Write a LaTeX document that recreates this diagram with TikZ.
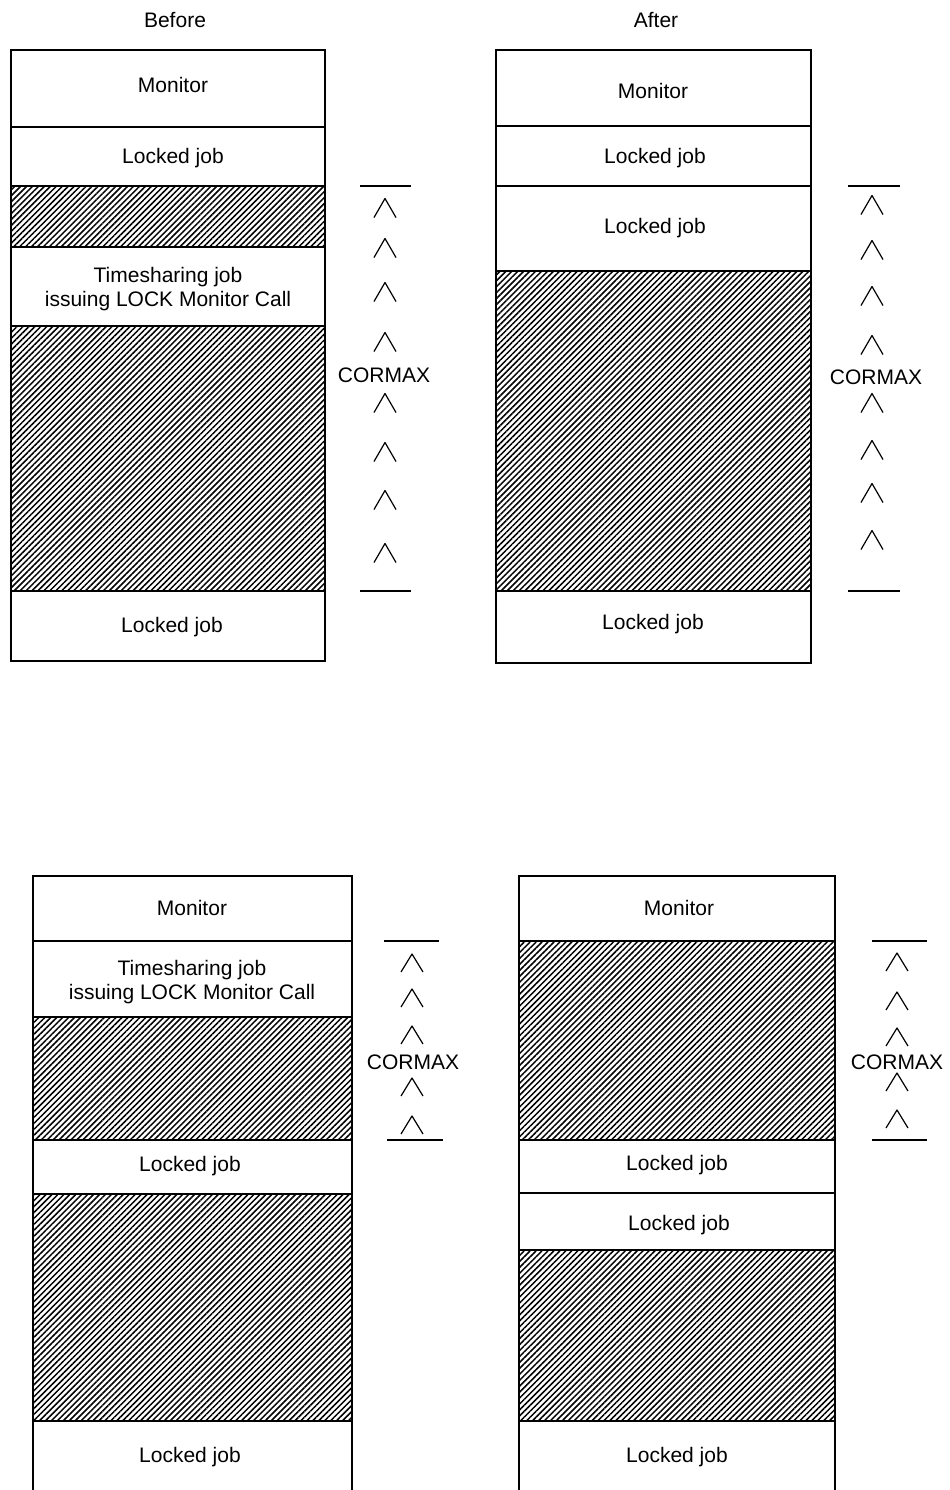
\documentclass[tikz,border=0pt]{standalone}
\usepackage{fontspec}
\setmainfont{Liberation Sans}
\usetikzlibrary{patterns.meta}

\begin{document}
\begin{tikzpicture}[x=0.5pt,y=-0.5pt,
  box/.style={line width=0.9pt},
  hatch/.style={draw,line width=0.9pt,
    pattern={Lines[angle=45,distance=2.1pt,line width=0.75pt]}},
  lbl/.style={font=\fontsize{10.5}{12}\selectfont,align=center,inner sep=0pt,yshift=-1pt},
  bar/.style={line width=0.8pt},
  caret/.style={line width=0.6pt,line join=round}]
  \useasboundingbox (0,0) rectangle (949,1490);
  % titles
  \node[lbl] (before) at (175,18) {Before};
  \node[lbl] (after) at (656,18) {After};
  % (a) before, upper map
  \draw[hatch] (11,186) rectangle (325,247);
  \draw[hatch] (11,326) rectangle (325,591);
  \draw[box] (11,50) rectangle (325,661);
  \draw[box] (11,127) -- (325,127);
  \node[lbl] (amon) at (173,83) {Monitor};
  \node[lbl] (alock) at (173,156) {Locked job};
  \node[lbl] (ats) at (168,287) {Timesharing job\\issuing LOCK Monitor Call};
  \node[lbl] (alock2) at (172,625) {Locked job};
  % cormax scale
  \draw[bar] (360,186) -- (411,186);
  \draw[bar] (360,591) -- (411,591);
  \foreach \y in {208,248,292,342,403,452,500,553}
    \draw[caret] (374,\y+9.5) -- (385,\y-9.5) -- (396,\y+9.5);
  \node[lbl] (acmx) at (384,373) {CORMAX};
  % (b) after, upper map
  \draw[hatch] (496,271) rectangle (811,591);
  \draw[box] (496,50) rectangle (811,663);
  \draw[box] (496,126) -- (811,126);
  \draw[box] (496,186) -- (811,186);
  \node[lbl] (bmon) at (653,89) {Monitor};
  \node[lbl] (block) at (655,156) {Locked job};
  \node[lbl] (block2) at (655,226) {Locked job};
  \node[lbl] (block3) at (653,622) {Locked job};
  % cormax scale
  \draw[bar] (848,186) -- (900,186);
  \draw[bar] (848,591) -- (900,591);
  \foreach \y in {205,250,296,345,403,450,493,540}
    \draw[caret] (861,\y+9.5) -- (872,\y-9.5) -- (883,\y+9.5);
  \node[lbl] (bcmx) at (876,375) {CORMAX};
  % (c) before, lower map
  \draw[hatch] (33,1017) rectangle (352,1140);
  \draw[hatch] (33,1194) rectangle (352,1421);
  \draw[box] (33,1490) -- (33,876) -- (352,876) -- (352,1490);
  \draw[box] (33,941) -- (352,941);
  \node[lbl] (cmon) at (192,906) {Monitor};
  \node[lbl] (cts) at (192,980) {Timesharing job\\issuing LOCK Monitor Call};
  \node[lbl] (clock) at (190,1164) {Locked job};
  \node[lbl] (clock2) at (190,1455) {Locked job};
  % cormax scale
  \draw[bar] (384,941) -- (439,941);
  \draw[bar] (387,1140) -- (443,1140);
  \foreach \y in {963,998,1035,1087,1125}
    \draw[caret] (401,\y+9) -- (412,\y-9) -- (423,\y+9);
  \node[lbl] (ccmx) at (413,1060) {CORMAX};
  % (d) after, lower map
  \draw[hatch] (519,941) rectangle (835,1140);
  \draw[hatch] (519,1250) rectangle (835,1421);
  \draw[box] (519,1490) -- (519,876) -- (835,876) -- (835,1490);
  \draw[box] (519,1193) -- (835,1193);
  \node[lbl] (dmon) at (679,906) {Monitor};
  \node[lbl] (dlock) at (677,1163) {Locked job};
  \node[lbl] (dlock2) at (679,1223) {Locked job};
  \node[lbl] (dlock3) at (677,1455) {Locked job};
  % cormax scale
  \draw[bar] (872,941) -- (927,941);
  \draw[bar] (872,1140) -- (927,1140);
  \foreach \y in {962,1001,1037,1082,1119}
    \draw[caret] (886,\y+9) -- (897,\y-9) -- (908,\y+9);
  \node[lbl] (dcmx) at (897,1060) {CORMAX};
\end{tikzpicture}
\end{document}
